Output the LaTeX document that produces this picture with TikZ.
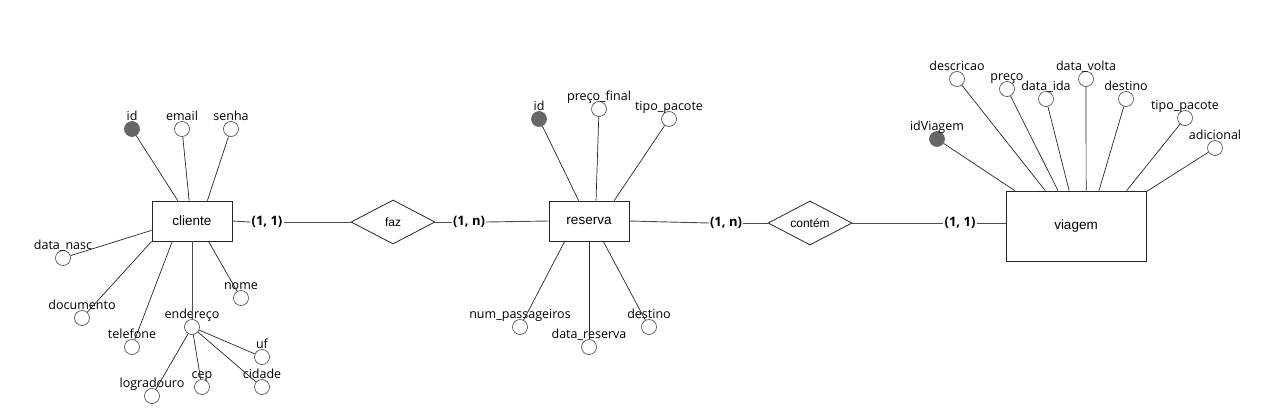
\documentclass[tikz,border=0pt]{standalone}
\usepackage{fontspec}
\setmainfont{Open Sans}
\newfontfamily\arialf{Liberation Sans}
\usetikzlibrary{shapes.geometric}
\begin{document}
\begin{tikzpicture}[x=1pt,y=-1pt,
  attr/.style={circle, draw=gray!70!black, fill=white, minimum size=15pt, inner sep=0pt, line width=0.7pt, label distance=2.5pt},
  keyattr/.style={attr, fill=gray!80!black, draw=gray!80!black},
  lbl/.style={font=\fontsize{12.5}{15}\selectfont, inner sep=0pt, text depth=0pt, text=black},
  ent/.style={rectangle, draw=black!85, line width=0.8pt, inner sep=0pt, font=\arialf\fontsize{13.5}{16}\selectfont},
  rel/.style={diamond, draw=black!85, line width=0.8pt, inner sep=0pt, aspect=1.9, minimum width=84pt, minimum height=44pt, font=\arialf\fontsize{12}{14}\selectfont},
  card/.style={font=\bfseries\fontsize{13}{15}\selectfont, inner sep=1pt},
  ln/.style={draw=black!85, line width=0.7pt},
  rl/.style={draw=black!70, line width=0.9pt}]
\useasboundingbox (0,0) rectangle (1261,418);

% entities
\node[ent, minimum width=80pt, minimum height=40pt] (cliente) at (192,221) {cliente};
\node[ent, minimum width=80pt, minimum height=40pt] (reserva) at (589,221) {reserva};
\node[ent, minimum width=140pt, minimum height=70pt] (viagem) at (1076,226) {viagem};

% relationships
\node[rel] (faz) at (393,222) {faz};
\node[rel] (contem) at (810,223) {contém};

% cardinalities
\node[card] (c11) at (267,222) {(1, 1)};
\node[card] (c1n) at (469,222) {(1, n)};
\node[card] (c2n) at (726,223) {(1, n)};
\node[card] (c21) at (960,223) {(1, 1)};

\draw[rl] (cliente.east) -- (c11.west);
\draw[rl] (c11.east) -- (faz.west);
\draw[rl] (faz.east) -- (c1n.west);
\draw[rl] (c1n.east) -- (reserva.west);
\draw[rl] (reserva.east) -- (c2n.west);
\draw[rl] (c2n.east) -- (contem.west);
\draw[rl] (contem.east) -- (c21.west);
\draw[rl] (c21.east) -- (c21 -| viagem.west);

% cliente attributes
\node[keyattr, label={[lbl]above:id}] (cid) at (132,129) {};
\node[attr, label={[lbl]above:email}] (cemail) at (182,129) {};
\node[attr, label={[lbl]above:senha}] (csenha) at (231,129) {};
\node[attr, label={[lbl]above:data\_nasc}] (cnasc) at (63,258) {};
\node[attr, label={[lbl]above:documento}] (cdoc) at (82,318) {};
\node[attr, label={[lbl]above:telefone}] (ctel) at (132,347) {};
\node[attr, label={[lbl]above:endereço}] (cend) at (192,327) {};
\node[attr, label={[lbl]above:nome}] (cnome) at (241,298) {};
\node[attr, label={[lbl]above:uf}] (cuf) at (262,357) {};
\node[attr, label={[lbl]above:cidade}] (ccid) at (262,387) {};
\node[attr, label={[lbl]above:cep}] (ccep) at (202,387) {};
\node[attr, label={[lbl]above:logradouro}] (clog) at (152,396) {};

\draw[ln] (cid) -- (cliente.125);
\draw[ln] (cemail) -- (cliente.98);
\draw[ln] (csenha) -- (cliente.53);
\draw[ln] (cnasc) -- (cliente.193);
\draw[ln] (cdoc) -- (cliente.south west);
\draw[ln] (ctel) -- (cliente.226);
\draw[rl] (cend) -- (cliente.south);
\draw[ln] (cnome) -- (cliente.309);
\draw[ln] (cend) -- (cuf);
\draw[ln] (cend) -- (ccid);
\draw[ln] (cend) -- (ccep);
\draw[ln] (cend) -- (clog);

% reserva attributes
\node[keyattr, label={[lbl]above:id}] (rid) at (539,119) {};
\node[attr, label={[lbl]above:preço\_final}] (rpreco) at (599,109) {};
\node[attr, label={[lbl]above:tipo\_pacote}] (rtipo) at (669,119) {};
\node[attr, label={[lbl]above:num\_passageiros}] (rnum) at (520,327) {};
\node[attr, label={[lbl]above:data\_reserva}] (rdata) at (589,347) {};
\node[attr, label={[lbl]above:destino}] (rdest) at (649,327) {};

\draw[ln] (rid) -- (reserva.117);
\draw[ln] (rpreco) -- (reserva.71);
\draw[ln] (rtipo) -- (reserva.39);
\draw[ln] (rnum) -- (reserva.220);
\draw[ln] (rdata) -- (reserva.south);
\draw[ln] (rdest) -- (reserva.305);

% viagem attributes
\node[keyattr, label={[lbl]above:idViagem}] (vid) at (937,139) {};
\node[attr, label={[lbl]above:descricao}] (vdesc) at (957,79) {};
\node[attr, label={[lbl]above:preço}] (vpreco) at (1007,89) {};
\node[attr, label={[lbl]above:data\_ida}] (vida) at (1046,99) {};
\node[attr, label={[lbl]above:data\_volta}] (vvolta) at (1086,79) {};
\node[attr, label={[lbl]above:destino}] (vdest) at (1126,99) {};
\node[attr, label={[lbl]above:tipo\_pacote}] (vtipo) at (1185,118) {};
\node[attr, label={[lbl]above:adicional}] (vadic) at (1215,148) {};

\draw[ln] (vid) -- (viagem.150.6);
\draw[ln] (vdesc) -- (viagem.131.5);
\draw[ln] (vpreco) -- (viagem.117.2);
\draw[ln] (vida) -- (viagem.101.3);
\draw[ln] (vvolta) -- (viagem.74);
\draw[ln] (vdest) -- (viagem.57.8);
\draw[ln] (vtipo) -- (viagem.35.5);
\draw[ln] (vadic) -- (viagem.26.9);
\end{tikzpicture}
\end{document}
